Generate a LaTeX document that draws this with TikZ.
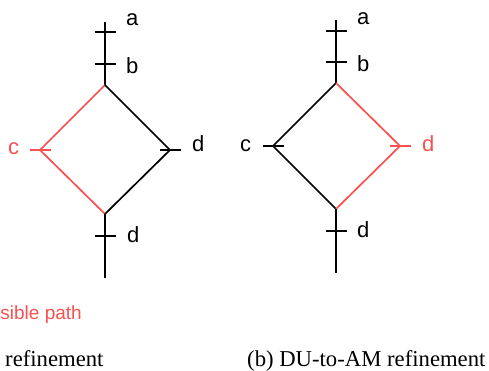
\documentclass[tikz,border=0pt]{standalone}
\usepackage{fontspec}
\setmainfont{Liberation Serif}
\newfontfamily\labelfont{Liberation Sans}
\usetikzlibrary{positioning}
\definecolor{pathRed}{RGB}{250, 80, 80}

\begin{document}
\begin{tikzpicture}[x=1pt, y=-1pt,
    every node/.style={inner sep=0pt, anchor=base west},
    lbl/.style={font=\labelfont\fontsize{22}{25}\selectfont},
    caption/.style={font=\fontsize{22.7}{26}\selectfont},
    flow/.style={line width=1.7pt, black, line join=miter},
    redflow/.style={flow, pathRed}]
    \useasboundingbox (0,0) rectangle (489,371);

    % left picture: infeasible path through c
    \coordinate (aTop) at (105,22);
    \coordinate (aTickA) at (105,32);
    \coordinate (aTickB) at (105,64);
    \coordinate (aT) at (105,85);
    \coordinate (aL) at (40,150);
    \coordinate (aR) at (170,150);
    \coordinate (aB) at (105,214);
    \coordinate (aTickD) at (105,236);
    \coordinate (aEnd) at (105,278);

    \draw[flow] (aTop) -- (aT);
    \draw[redflow] (aT) -- (aL) -- (aB);
    \draw[flow] (aT) -- (aR) -- (aB);
    \draw[flow] (aB) -- (aEnd);
    \draw[flow] ([xshift=-10.5pt]aTickA) -- ([xshift=10.5pt]aTickA);
    \draw[flow] ([xshift=-10.5pt]aTickB) -- ([xshift=10.5pt]aTickB);
    \draw[redflow] ([xshift=-10.5pt]aL) -- ([xshift=10.5pt]aL);
    \draw[flow] ([xshift=-10.5pt]aR) -- ([xshift=10.5pt]aR);
    \draw[flow] ([xshift=-10.5pt]aTickD) -- ([xshift=10.5pt]aTickD);

    \node[lbl] (aLblA) at (126,26) {a};
    \node[lbl] (aLblB) at (126,74) {b};
    \node[lbl, text=pathRed] (aLblC) at (8,155) {c};
    \node[lbl] (aLblD) at (192,152) {d};
    \node[lbl] (aLblE) at (127,242) {d};
    \node[font=\labelfont\fontsize{19}{22}\selectfont, text=pathRed,
        anchor=base east] (legend) at (82,319) {sible path};
    \node[caption] (aCap) at (5,366) {refinement};

    % right picture: infeasible path through d
    \coordinate (bTop) at (336,20);
    \coordinate (bTickA) at (336,31);
    \coordinate (bTickB) at (336,62);
    \coordinate (bT) at (336,83);
    \coordinate (bL) at (273,146);
    \coordinate (bR) at (400,146);
    \coordinate (bB) at (336,209);
    \coordinate (bTickD) at (336,231);
    \coordinate (bEnd) at (336,273);

    \draw[flow] (bTop) -- (bT);
    \draw[flow] (bT) -- (bL) -- (bB);
    \draw[redflow] (bT) -- (bR) -- (bB);
    \draw[flow] (bB) -- (bEnd);
    \draw[flow] ([xshift=-10.5pt]bTickA) -- ([xshift=10.5pt]bTickA);
    \draw[flow] ([xshift=-10.5pt]bTickB) -- ([xshift=10.5pt]bTickB);
    \draw[flow] ([xshift=-10.5pt]bL) -- ([xshift=10.5pt]bL);
    \draw[redflow] ([xshift=-10.5pt]bR) -- ([xshift=10.5pt]bR);
    \draw[flow] ([xshift=-10.5pt]bTickD) -- ([xshift=10.5pt]bTickD);

    \node[lbl] (bLblA) at (357,25) {a};
    \node[lbl] (bLblB) at (357,72) {b};
    \node[lbl] (bLblC) at (240,152) {c};
    \node[lbl, text=pathRed] (bLblD) at (422,152) {d};
    \node[lbl] (bLblE) at (357,237) {d};
    \node[caption] (bCap) at (247,366) {(b) DU-to-AM refinement};
\end{tikzpicture}
\end{document}
